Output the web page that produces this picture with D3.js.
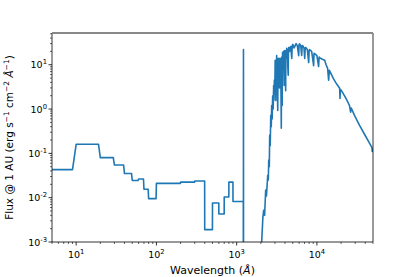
<!DOCTYPE html>
<html>
<head>
<meta charset="utf-8">
<script src="https://cdn.jsdelivr.net/npm/d3@7"></script>
<style>
  body { margin: 0; background: #fff; }
  text { font-family: "DejaVu Sans", sans-serif; fill: #000; }
</style>
</head>
<body>
<svg id="chart" width="415" height="277"></svg>
<script>
// x-ray / EUV binned part (wavelength in Angstrom, flux in erg/s/cm2/A)
var euvWave = [5, 9, 10, 19, 20, 29, 30, 39, 40, 49, 50, 59, 60, 69, 70, 79, 80, 99, 100, 199, 200, 299, 300, 399, 400, 499, 500, 599, 600, 699, 700, 799, 800, 899, 900, 1210];
var euvFlux = [0.043, 0.043, 0.16, 0.16, 0.08, 0.08, 0.0546, 0.0546, 0.035, 0.035, 0.0245, 0.0245, 0.0265, 0.0265, 0.0155, 0.0155, 0.0095, 0.0095, 0.021, 0.021, 0.0225, 0.0225, 0.0238, 0.0238, 0.0019, 0.0019, 0.0076, 0.0076, 0.0043, 0.0043, 0.0104, 0.0104, 0.0225, 0.0225, 0.0082, 0.0082];

// Lyman alpha line
var lyaWave = [1213, 1216, 1219];
var lyaFlux = [1e-5, 22, 1e-5];

// photospheric spectrum
var specWave = [1230, 1500, 1800, 2000, 2050, 2120, 2170, 2230, 2300, 2350, 2440, 2480, 2510, 2550, 2580, 2620, 2660, 2700, 2730, 2770, 2810, 2850, 2890, 2920, 2950, 2985,
  3020, 3040, 3060, 3080, 3100, 3120, 3150, 3170, 3200, 3225, 3250, 3275, 3300, 3320, 3340, 3370, 3400, 3420, 3450, 3480, 3505, 3530, 3560, 3600, 3625, 3650, 3670, 3690, 3715, 3740, 3770, 3800, 3825, 3850, 3880, 3910, 3935, 3960, 3990, 4020, 4050, 4080, 4110, 4140, 4170, 4200, 4250, 4300, 4340, 4390, 4420, 4450,
  4550, 4650, 4720, 4860, 4930, 5000, 5200, 5500, 5700, 5930, 6000, 6100, 6300, 6460, 6550, 6650, 6900, 7050, 7150, 7260, 7600, 7900, 8000, 8100, 8600, 9100, 9200, 9370, 10000, 10500, 10650, 10800, 11500, 12500, 13000, 13600, 14000, 14300, 15300, 16000, 17100, 18000, 19200, 19400, 19600, 20500, 22200, 24000, 25500, 26300, 26800, 29400, 34000, 39200, 45200, 48500, 49000, 50000];
var specFlux = [1e-5, 1e-5, 1e-5, 2e-4, 1e-3, 0.0035, 0.0052, 0.004, 0.0148, 0.011, 0.032, 0.025, 0.071, 0.05, 0.26, 0.15, 0.72, 0.4, 1.2, 0.6, 2.0, 1.0, 3.4, 1.6, 4.5, 2.2,
  12.6, 4, 11, 1.55, 9, 3, 16.2, 5, 14, 2.5, 0.93, 8, 12, 4, 14, 6, 13, 3, 12, 14, 5, 13.8, 4, 0.37, 9, 15, 6, 1.2, 14, 19, 8, 17, 10, 20, 9, 3.4, 15, 21, 12, 19, 9, 2.6, 16, 21, 14, 23.4, 17, 22, 9, 5.8, 20, 24.5,
  20, 25, 25.7, 13.8, 27, 28.8, 24, 30, 27, 16, 29, 29.5, 26, 16.2, 27, 27, 24, 13.8, 24, 24.5, 22, 11.2, 21, 21.9, 20, 9.5, 18, 17.8, 16, 9.1, 15, 14.5, 13.5, 12.6, 10, 8.3, 4.5, 7.5, 5.8, 4.9, 4.0, 3.5, 2.95, 1.74, 2.8, 2.5, 1.95, 1.5, 1.2, 0.85, 1.05, 0.72, 0.43, 0.27, 0.17, 0.135, 0.11, 0.128];

var xTicks = [10, 100, 1000, 10000];
var yTicks = [1e-3, 1e-2, 1e-1, 1, 10];

var svg = d3.select("#chart");
var margin = {left: 52, right: 42, top: 33, bottom: 35};
var width = 415 - margin.left - margin.right,
    height = 277 - margin.top - margin.bottom;

var x = d3.scaleLog().domain([5, 50000]).range([0, width]);
var y = d3.scaleLog().domain([1e-3, 52]).range([height, 0]);

var g = svg.append("g").attr("transform", "translate(" + margin.left + "," + margin.top + ")");

g.append("clipPath").attr("id", "clip")
  .append("rect").attr("width", width).attr("height", height);

// join all pieces into one trace
var points = [];
euvWave.forEach(function(w, i) { points.push([w, euvFlux[i]]); });
lyaWave.forEach(function(w, i) { points.push([w, lyaFlux[i]]); });
specWave.forEach(function(w, i) { points.push([w, specFlux[i]]); });

var line = d3.line()
  .x(function(d) { return x(d[0]); })
  .y(function(d) { return y(d[1]); });

g.append("path")
  .datum(points)
  .attr("clip-path", "url(#clip)")
  .attr("fill", "none")
  .attr("stroke", "#1f77b4")
  .attr("stroke-width", 1.6)
  .attr("stroke-linejoin", "round")
  .attr("d", line);

// minor ticks
function minors(lo, hi) {
  var out = [];
  for (var e = lo; e < hi; e++) {
    for (var k = 2; k < 10; k++) out.push(k * Math.pow(10, e));
  }
  return out;
}
var xMinor = minors(0, 5).filter(function(v) { return v >= 5 && v <= 50000; });
var yMinor = minors(-3, 2).filter(function(v) { return v <= 52; });

var xAxis = g.append("g").attr("transform", "translate(0," + height + ")");
xAxis.selectAll(".minor").data(xMinor).enter().append("line")
  .attr("x1", function(d) { return x(d); }).attr("x2", function(d) { return x(d); })
  .attr("y1", 0).attr("y2", 2).attr("stroke", "#000").attr("stroke-width", 0.6);
xAxis.selectAll(".major").data(xTicks).enter().append("line")
  .attr("x1", function(d) { return x(d); }).attr("x2", function(d) { return x(d); })
  .attr("y1", 0).attr("y2", 3.5).attr("stroke", "#000").attr("stroke-width", 0.8);
var xl = xAxis.selectAll(".lab").data(xTicks).enter().append("text")
  .attr("x", function(d) { return x(d); })
  .attr("y", 16)
  .attr("text-anchor", "middle")
  .attr("font-size", 9.5);
xl.append("tspan").text("10");
xl.append("tspan").attr("font-size", 6.8).attr("dy", -4)
  .text(function(d) { return Math.round(Math.log10(d)); });

var yAxis = g.append("g");
yAxis.selectAll(".minor").data(yMinor).enter().append("line")
  .attr("y1", function(d) { return y(d); }).attr("y2", function(d) { return y(d); })
  .attr("x1", 0).attr("x2", -2).attr("stroke", "#000").attr("stroke-width", 0.6);
yAxis.selectAll(".major").data(yTicks).enter().append("line")
  .attr("y1", function(d) { return y(d); }).attr("y2", function(d) { return y(d); })
  .attr("x1", 0).attr("x2", -3.5).attr("stroke", "#000").attr("stroke-width", 0.8);
var yl = yAxis.selectAll(".lab").data(yTicks).enter().append("text")
  .attr("x", -5)
  .attr("y", function(d) { return y(d) + 3.5; })
  .attr("text-anchor", "end")
  .attr("font-size", 9.5);
yl.append("tspan").text("10");
yl.append("tspan").attr("font-size", 6.8).attr("dy", -4)
  .text(function(d) { return Math.round(Math.log10(d)); });

// spines
g.append("line").attr("x1", 0).attr("x2", 0).attr("y1", 0).attr("y2", height)
  .attr("stroke", "#000").attr("stroke-width", 0.8);
g.append("line").attr("x1", 0).attr("x2", width).attr("y1", height).attr("y2", height)
  .attr("stroke", "#000").attr("stroke-width", 0.8);
g.append("line").attr("x1", width).attr("x2", width).attr("y1", 0).attr("y2", height)
  .attr("stroke", "#000").attr("stroke-width", 0.8);
g.append("line").attr("x1", 0).attr("x2", width).attr("y1", 0).attr("y2", 0)
  .attr("stroke", "#888").attr("stroke-width", 2);

// axis labels
var xt = g.append("text")
  .attr("x", width / 2)
  .attr("y", height + 32)
  .attr("text-anchor", "middle")
  .attr("font-size", 11);
xt.append("tspan").text("Wavelength (");
xt.append("tspan").attr("font-style", "italic").text("Å");
xt.append("tspan").text(")");

var yt = g.append("text")
  .attr("transform", "translate(-39," + (height / 2) + ") rotate(-90)")
  .attr("text-anchor", "middle")
  .attr("font-size", 10.5);
yt.append("tspan").text("Flux @ 1 AU (erg s");
yt.append("tspan").attr("font-size", 7.5).attr("dy", -4).text("−1");
yt.append("tspan").attr("dy", 4).text(" cm");
yt.append("tspan").attr("font-size", 7.5).attr("dy", -4).text("−2");
yt.append("tspan").attr("dy", 4).attr("font-style", "italic").text(" Å");
yt.append("tspan").attr("font-size", 7.5).attr("dy", -4).text("−1");
yt.append("tspan").attr("dy", 4).text(")");
</script>
</body>
</html>
